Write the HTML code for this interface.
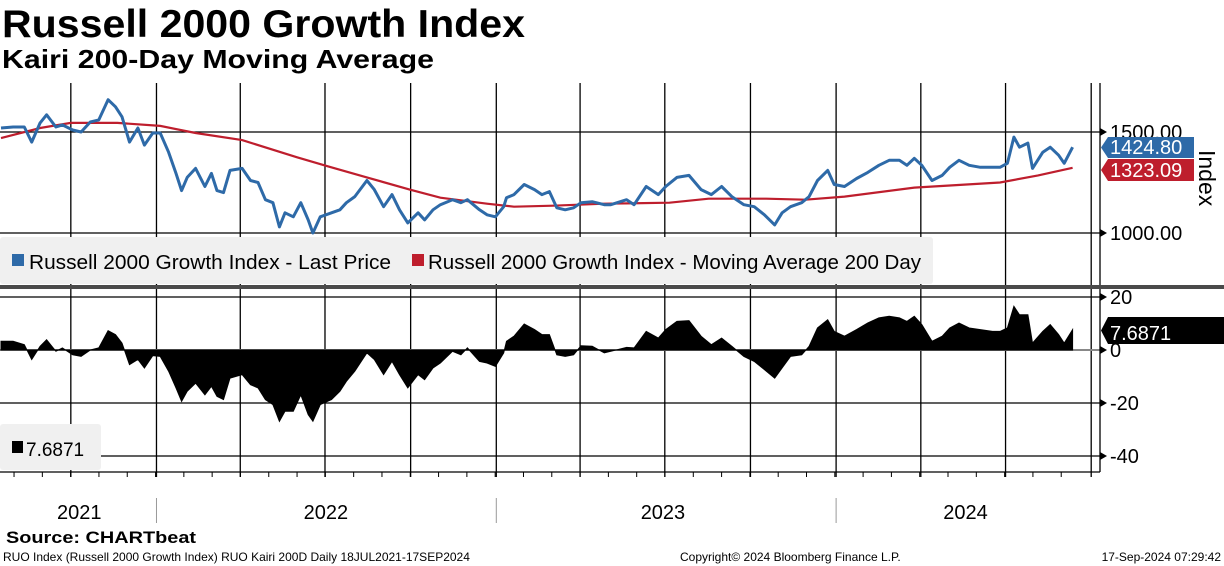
<!DOCTYPE html>
<html><head><meta charset="utf-8">
<style>
body{margin:0;background:#fff;width:1224px;height:566px;overflow:hidden;font-family:"Liberation Sans",sans-serif}
svg{display:block}
</style></head>
<body>
<svg id="c" width="1224" height="566" xmlns="http://www.w3.org/2000/svg" font-family="Liberation Sans, sans-serif">
<text x="2" y="37" font-size="39" font-weight="bold" textLength="523" lengthAdjust="spacingAndGlyphs">Russell 2000 Growth Index</text>
<text x="2" y="68" font-size="26" font-weight="bold" textLength="432" lengthAdjust="spacingAndGlyphs">Kairi 200-Day Moving Average</text>
<g id="grid"></g>
<rect x="0" y="237" width="933" height="47" rx="3" fill="#f0f0f0"/>
<rect x="12" y="254" width="12" height="12" fill="#2e6aa8"/>
<text x="29" y="269" font-size="20" textLength="362" lengthAdjust="spacingAndGlyphs">Russell 2000 Growth Index - Last Price</text>
<rect x="412" y="254" width="12" height="12" fill="#be1e2d"/>
<text x="428" y="269" font-size="20" textLength="493" lengthAdjust="spacingAndGlyphs">Russell 2000 Growth Index - Moving Average 200 Day</text>
<rect x="0" y="285" width="1224" height="4" fill="#4a4a4a"/>
<g id="plots"></g>
<rect x="0" y="424" width="101" height="46" rx="3" fill="#f0f0f0"/>
<rect x="12" y="441" width="11" height="12" fill="#000"/>
<text x="26" y="456" font-size="19">7.6871</text>
<g id="axes"></g>
<text x="6" y="543" font-size="17" font-weight="bold" textLength="190" lengthAdjust="spacingAndGlyphs">Source: CHARTbeat</text>
<text x="3" y="561" font-size="12">RUO Index (Russell 2000 Growth Index) RUO Kairi 200D  Daily 18JUL2021-17SEP2024</text>
<text x="680" y="561" font-size="12">Copyright© 2024 Bloomberg Finance L.P.</text>
<text x="1221" y="561" font-size="12" text-anchor="end">17-Sep-2024 07:29:42</text>
</svg>
<script>
const days=[0,13,25,33,42,49,59,66,77,86,96,105,115,123,130,138,147,154,163,171,180,188,194,200,209,219,226,232,239,246,259,268,276,284,292,299,305,314,322,330,335,343,355,364,371,380,393,401,411,420,428,437,448,455,464,472,485,494,501,514,522,531,540,543,551,562,573,581,589,597,606,615,623,635,648,655,672,680,693,706,714,726,739,752,763,774,785,798,809,820,831,839,848,860,868,877,888,895,906,919,931,943,954,965,973,981,989,1000,1011,1019,1029,1040,1052,1065,1073,1081,1088,1094,1103,1108,1119,1127,1136,1142,1151];
const price=[1520,1525,1525,1450,1545,1585,1525,1535,1510,1500,1550,1560,1660,1625,1575,1450,1520,1435,1495,1495,1400,1295,1210,1275,1320,1230,1295,1210,1200,1310,1320,1260,1250,1165,1150,1030,1100,1080,1150,1065,1000,1080,1100,1115,1150,1180,1260,1215,1130,1190,1115,1050,1100,1065,1115,1140,1165,1150,1165,1115,1090,1080,1130,1175,1190,1240,1215,1190,1205,1125,1115,1125,1150,1155,1140,1140,1165,1140,1230,1190,1230,1275,1285,1215,1190,1230,1180,1140,1130,1090,1040,1100,1130,1150,1180,1260,1310,1240,1230,1270,1300,1335,1360,1360,1335,1370,1335,1260,1285,1325,1360,1335,1325,1325,1325,1345,1475,1425,1445,1320,1400,1425,1385,1345,1425];
const kairi=[3.3,3.3,2,-3.6,1.4,3.9,-0.5,0.8,-1.8,-2.4,0,0.8,7.3,5.8,2.6,-5.5,-3.6,-6.8,-2.1,-2.4,-8,-14.3,-19.4,-15.6,-12.5,-16.9,-13.7,-17.5,-18.7,-10.6,-9.3,-13.1,-14.3,-18.7,-20.6,-26.9,-23.1,-23.1,-16.9,-24.4,-26.9,-20.6,-18.7,-15.6,-11.8,-8,-1.1,-3.6,-9.3,-4.3,-9.3,-14.3,-9.3,-11.2,-6.8,-4.9,-0.5,-1.8,0.8,-4.3,-4.9,-6.2,-1.1,3.3,5.2,9.8,7.7,5.8,5.8,-1.8,-2.4,-1.8,1.6,1.4,-1.1,-0.5,1,0.8,7,4.5,7.7,10.8,11.1,5.2,2,4.5,1.4,-2.4,-4.3,-7.4,-10.6,-6.8,-2.4,-1.8,1.4,8.3,11.4,7,5.2,7.7,10.2,12.1,12.7,12.1,10.8,12.7,9.6,3.3,5.2,8.3,10.2,8.3,7.7,7,7,8.3,16.5,13.3,13.3,2.6,7,9.6,5.8,2.6,7.7];
const maDays=[0,42,75,125,171,209,259,318,351,393,439,472,522,551,593,648,718,760,822,864,906,981,1073,1114,1151];
const maValues=[1470,1520,1545,1545,1530,1495,1460,1375,1330,1275,1215,1175,1145,1130,1135,1145,1150,1170,1170,1165,1180,1225,1250,1285,1323];
const quarterDays=[75,167,257,348,440,532,622,713,805,897,988,1079,1171];
const yearLabels=["2021","2022","2023","2024"];
const yearLabelDays=[84,349,711,1036];
const yearSepDays=[167,532,897];
const priceTicks=[1000,1500];
const kairiTicks=[20,0,-20,-40];

const NS="http://www.w3.org/2000/svg";
const X=d=>1+d*0.931;
const YP=v=>132+(1500-v)*101/500;
const YK=v=>350-v*53/20;
function mk(tag,attrs,parent){const e=document.createElementNS(NS,tag);for(const k in attrs)e.setAttribute(k,attrs[k]);parent.appendChild(e);return e;}
const grid=document.getElementById('grid'),plots=document.getElementById('plots'),axes=document.getElementById('axes');
quarterDays.forEach(d=>{
  let l=mk('line',{x1:X(d),x2:X(d),y1:83,y2:285,stroke:'#000','stroke-width':1.3},grid);
  
  
  let l2=mk('line',{x1:X(d),x2:X(d),y1:289,y2:477,stroke:'#000','stroke-width':1.3},grid);
  
  
});
priceTicks.forEach(v=>{
  let l=mk('line',{x1:0,x2:1100,y1:YP(v),y2:YP(v),stroke:'#000','stroke-width':1.3},grid);
  
  
  let t=mk('text',{x:1110,y:YP(v)+7,'font-size':20},axes);
  t.textContent=v.toFixed(2);
  
  
  let a=mk('path',{d:`M1100 ${YP(v)-4}L1107 ${YP(v)}L1100 ${YP(v)+4}Z`,fill:'#000'},axes);
  
  
});
kairiTicks.forEach(v=>{
  let l=mk('line',{x1:0,x2:1100,y1:YK(v),y2:YK(v),stroke:v===0?'#888':'#000','stroke-width':v===0?2:1.3},grid);
  
  
  let t=mk('text',{x:1110,y:YK(v)+7,'font-size':20},axes);
  t.textContent=String(v);
  
  
  let a=mk('path',{d:`M1100 ${YK(v)-4}L1107 ${YK(v)}L1100 ${YK(v)+4}Z`,fill:'#000'},axes);
  
  
});
let kd=`M${X(days[0])} ${YK(0)}`;
days.forEach((d,i)=>{kd+=`L${X(d).toFixed(1)} ${YK(kairi[i]).toFixed(1)}`;});
kd+=`L${X(days[days.length-1])} ${YK(0)}Z`;
let ka=mk('path',{d:kd,fill:'#000',stroke:'#000','stroke-width':1},plots);


let md=maDays.map((d,i)=>(i?'L':'M')+X(d).toFixed(1)+' '+YP(maValues[i]).toFixed(1)).join('');
let ml=mk('path',{d:md,fill:'none',stroke:'#be1e2d','stroke-width':2.2},plots);


let pd=days.map((d,i)=>(i?'L':'M')+X(d).toFixed(1)+' '+YP(price[i]).toFixed(1)).join('');
let pl=mk('path',{d:pd,fill:'none',stroke:'#2e6aa8','stroke-width':3,'stroke-linejoin':'round'},plots);


let ra=mk('line',{x1:1100,x2:1100,y1:83,y2:285,stroke:'#000','stroke-width':1.3},axes);


let rb=mk('line',{x1:1100,x2:1100,y1:289,y2:472,stroke:'#000','stroke-width':1.3},axes);


let ba=mk('line',{x1:0,x2:1100,y1:472,y2:472,stroke:'#000','stroke-width':1.3},axes);


for(let d=14;d<1160;d+=30.4){
  let t=mk('line',{x1:X(d),x2:X(d),y1:472,y2:477,stroke:'#000'},axes);
  
  
}
yearSepDays.forEach(d=>{
  let s=mk('line',{x1:X(d),x2:X(d),y1:498,y2:523,stroke:'#999'},axes);
  
  
});
yearLabels.forEach((y,i)=>{
  let t=mk('text',{x:X(yearLabelDays[i]),y:519,'font-size':20,'text-anchor':'middle'},axes);
  t.textContent=y;
  
  
});
function tag(y0,h,w,fill,txt,name){
  let p=mk('path',{d:`M1101 ${y0+h/2}L1108 ${y0}L${1101+w} ${y0}L${1101+w} ${y0+h}L1108 ${y0+h}Z`,fill:fill},axes);
  
  
  let t=mk('text',{x:1110,y:y0+h-4,'font-size':20,fill:'#fff'},axes);
  t.textContent=txt;
  
  
}
tag(137,21,93,'#2e6aa8','1424.80','last-price');
tag(159,22,93,'#be1e2d','1323.09','moving-average');
tag(317,27,123,'#000','7.6871','kairi-last');
let ix=mk('text',{x:0,y:0,'font-size':23,transform:'translate(1199,150) rotate(90)'},axes);
ix.textContent='Index';


</script>
</body></html>
